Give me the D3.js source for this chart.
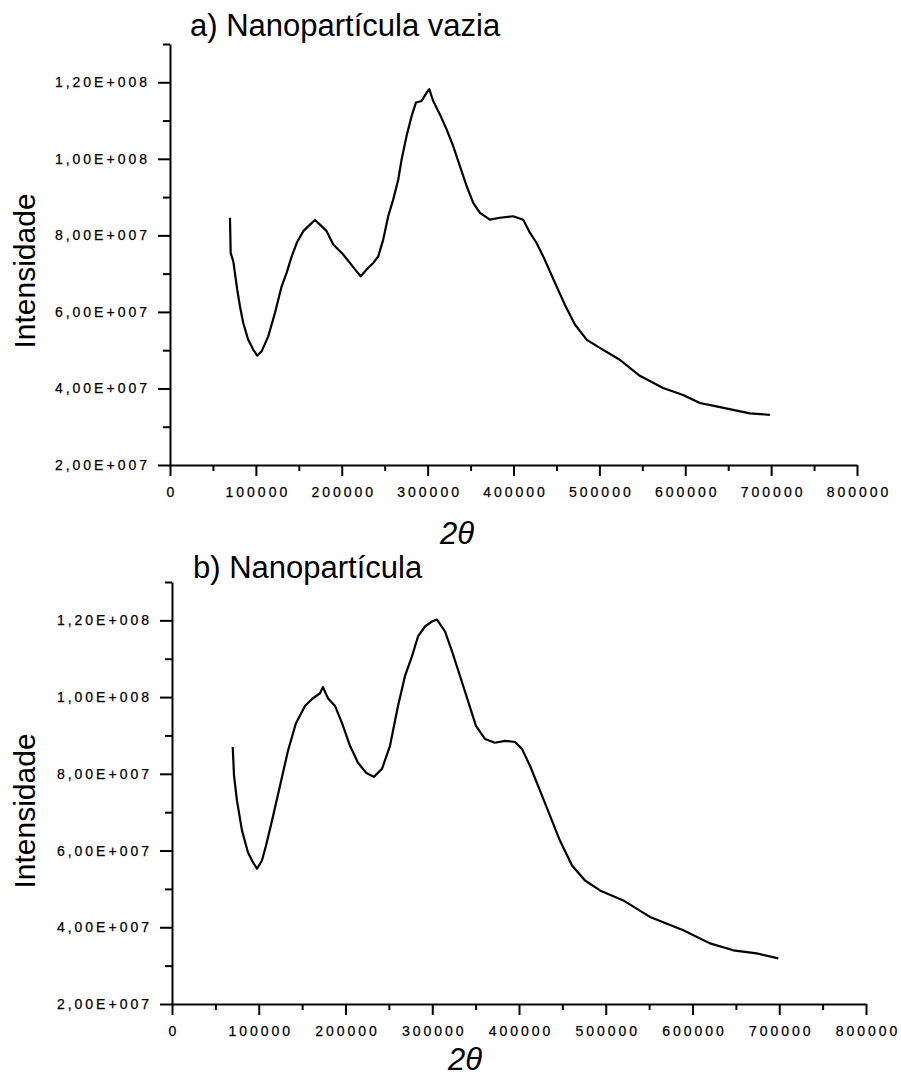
<!DOCTYPE html>
<html><head><meta charset="utf-8">
<script src="https://cdn.jsdelivr.net/npm/d3@7"></script>
<style>
body{margin:0;background:#fff}
svg{display:block}
text{font-family:"Liberation Sans",Arial,Helvetica,sans-serif;fill:#000}
</style>
</head><body>
<svg id="c" width="901" height="1077"></svg>
<script>
// ---------- data ----------
const xTickValues = [0,100000,200000,300000,400000,500000,600000,700000,800000];
const xTickLabels = ["0","100000","200000","300000","400000","500000","600000","700000","800000"];
const xMinorValues = [50000,150000,250000,350000,450000,550000,650000,750000];
const yTickValues = [2e7,4e7,6e7,8e7,1e8,1.2e8];
const yTickLabels = ["2,00E+007","4,00E+007","6,00E+007","8,00E+007","1,00E+008","1,20E+008"];
const yMinorValues = [3e7,5e7,7e7,9e7,1.1e8,1.3e8];
const titles = ["a) Nanopartícula vazia","b) Nanopartícula"];
const yAxisTitle = "Intensidade";
const xAxisTitle = "2θ";

// a) Nanopartícula vazia
const thetaA = [69850,70660,73700,78300,81500,85300,91100,97000,101600,106700,114400,122200,130000,135800,141700,147500,155200,163000,168800,174600,182400,190100,201700,209500,215400,222000,229000,236700,242500,248300,254100,260000,265800,269700,275500,281400,286400,293000,298800,301900,306500,314300,322100,329800,337600,345400,353100,360900,372500,384200,399600,411300,419100,426900,434600,449300,459800,471500,485400,500500,523800,547100,574200,597500,617000,636400,655700,675200,698500];
const intensityA = [8.46e7,7.54e7,7.32e7,6.58e7,6.14e7,5.71e7,5.27e7,5.01e7,4.86e7,4.97e7,5.36e7,5.97e7,6.67e7,7.02e7,7.45e7,7.80e7,8.11e7,8.28e7,8.40e7,8.28e7,8.11e7,7.76e7,7.50e7,7.28e7,7.11e7,6.93e7,7.11e7,7.28e7,7.45e7,7.89e7,8.50e7,8.94e7,9.46e7,9.98e7,10.60e7,11.12e7,11.47e7,11.51e7,11.73e7,11.82e7,11.51e7,11.16e7,10.77e7,10.33e7,9.81e7,9.29e7,8.85e7,8.59e7,8.41e7,8.46e7,8.50e7,8.41e7,8.07e7,7.80e7,7.45e7,6.71e7,6.19e7,5.67e7,5.27e7,5.06e7,4.75e7,4.33e7,4.01e7,3.83e7,3.62e7,3.53e7,3.44e7,3.35e7,3.31e7];

// b) Nanopartícula
const thetaB = [70000,71500,74900,80700,87600,93400,98000,103700,108400,115300,124500,133700,142900,153300,161400,170600,174000,179800,187900,196000,205200,214400,223600,232800,242100,251300,260500,268600,276600,283600,291600,299700,305500,314700,322800,332000,341200,350400,360800,372300,383800,395400,403400,412700,424200,435700,447200,461100,476100,493400,520200,551000,589400,620200,647000,674000,698900];
const intensityB = [8.70e7,7.95e7,7.30e7,6.52e7,5.95e7,5.69e7,5.53e7,5.74e7,6.13e7,6.78e7,7.69e7,8.60e7,9.32e7,9.77e7,9.95e7,10.10e7,10.26e7,9.97e7,9.77e7,9.32e7,8.73e7,8.29e7,8.03e7,7.92e7,8.13e7,8.73e7,9.77e7,10.55e7,11.06e7,11.58e7,11.84e7,11.97e7,12.02e7,11.71e7,11.19e7,10.55e7,9.90e7,9.25e7,8.91e7,8.81e7,8.86e7,8.83e7,8.65e7,8.21e7,7.56e7,6.91e7,6.26e7,5.61e7,5.22e7,4.96e7,4.70e7,4.27e7,3.92e7,3.58e7,3.40e7,3.32e7,3.19e7];

const xDomain = [0, 800000];
const yDomain = [2e7, 1.3e8];

// ---------- layout ----------
const panels = [
  {theta: thetaA, inten: intensityA, title: titles[0], left:170, right:857, top:44, bottom:465,
   titleX:190, titleY:36, yLabX:35, yLabY:271, xLabX:457, xLabY:544},
  {theta: thetaB, inten: intensityB, title: titles[1], left:172, right:866, top:582, bottom:1004,
   titleX:193, titleY:578, yLabX:35, yLabY:811, xLabX:465, xLabY:1070}
];

const svg = d3.select("#c");

panels.forEach(p => {
  const x = d3.scaleLinear().domain(xDomain).range([p.left, p.right]);
  const y = d3.scaleLinear().domain(yDomain).range([p.bottom, p.top]);
  const g = svg.append("g");

  // minor ticks
  g.append("g").attr("transform", `translate(0,${p.bottom})`)
    .call(d3.axisBottom(x).tickValues(xMinorValues).tickSize(6).tickSizeOuter(0).tickFormat(""))
    .call(s => s.select(".domain").remove());
  g.append("g").attr("transform", `translate(${p.left},0)`)
    .call(d3.axisLeft(y).tickValues(yMinorValues).tickSize(7).tickSizeOuter(0).tickFormat(""))
    .call(s => s.select(".domain").remove());

  // major axes
  const xa = g.append("g").attr("transform", `translate(0,${p.bottom})`)
    .call(d3.axisBottom(x).tickValues(xTickValues).tickSize(11).tickSizeOuter(0).tickPadding(11)
      .tickFormat((d,i) => xTickLabels[i]));
  const ya = g.append("g").attr("transform", `translate(${p.left},0)`)
    .call(d3.axisLeft(y).tickValues(yTickValues).tickSize(12).tickSizeOuter(0).tickPadding(8)
      .tickFormat((d,i) => yTickLabels[i]));

  g.selectAll(".domain").attr("stroke", "#000").attr("stroke-width", 2);
  g.selectAll(".tick line").attr("stroke", "#000").attr("stroke-width", 2);
  g.selectAll(".tick text")
    .attr("font-family", '"Liberation Sans",Arial,sans-serif')
    .attr("font-size", 14).attr("letter-spacing", 3).attr("fill", "#000")
    .attr("stroke", "#000").attr("stroke-width", 0.25);
  xa.selectAll(".tick text").attr("dx", 1.5);

  // the curve
  const pts = p.theta.map((t,i) => [t, p.inten[i]]);
  g.append("path").datum(pts)
    .attr("fill", "none").attr("stroke", "#000").attr("stroke-width", 2.2)
    .attr("stroke-linejoin", "round")
    .attr("d", d3.line().x(d => x(d[0])).y(d => y(d[1])));

  // titles
  g.append("text").attr("x", p.titleX).attr("y", p.titleY)
    .attr("font-size", 31).text(p.title);
  g.append("text")
    .attr("transform", `translate(${p.yLabX},${p.yLabY}) rotate(-90)`)
    .attr("text-anchor", "middle").attr("font-size", 30).text(yAxisTitle);
  g.append("text").attr("x", p.xLabX).attr("y", p.xLabY)
    .attr("text-anchor", "middle").attr("font-size", 31).attr("font-style", "italic")
    .text(xAxisTitle);
});
</script>
</body></html>
